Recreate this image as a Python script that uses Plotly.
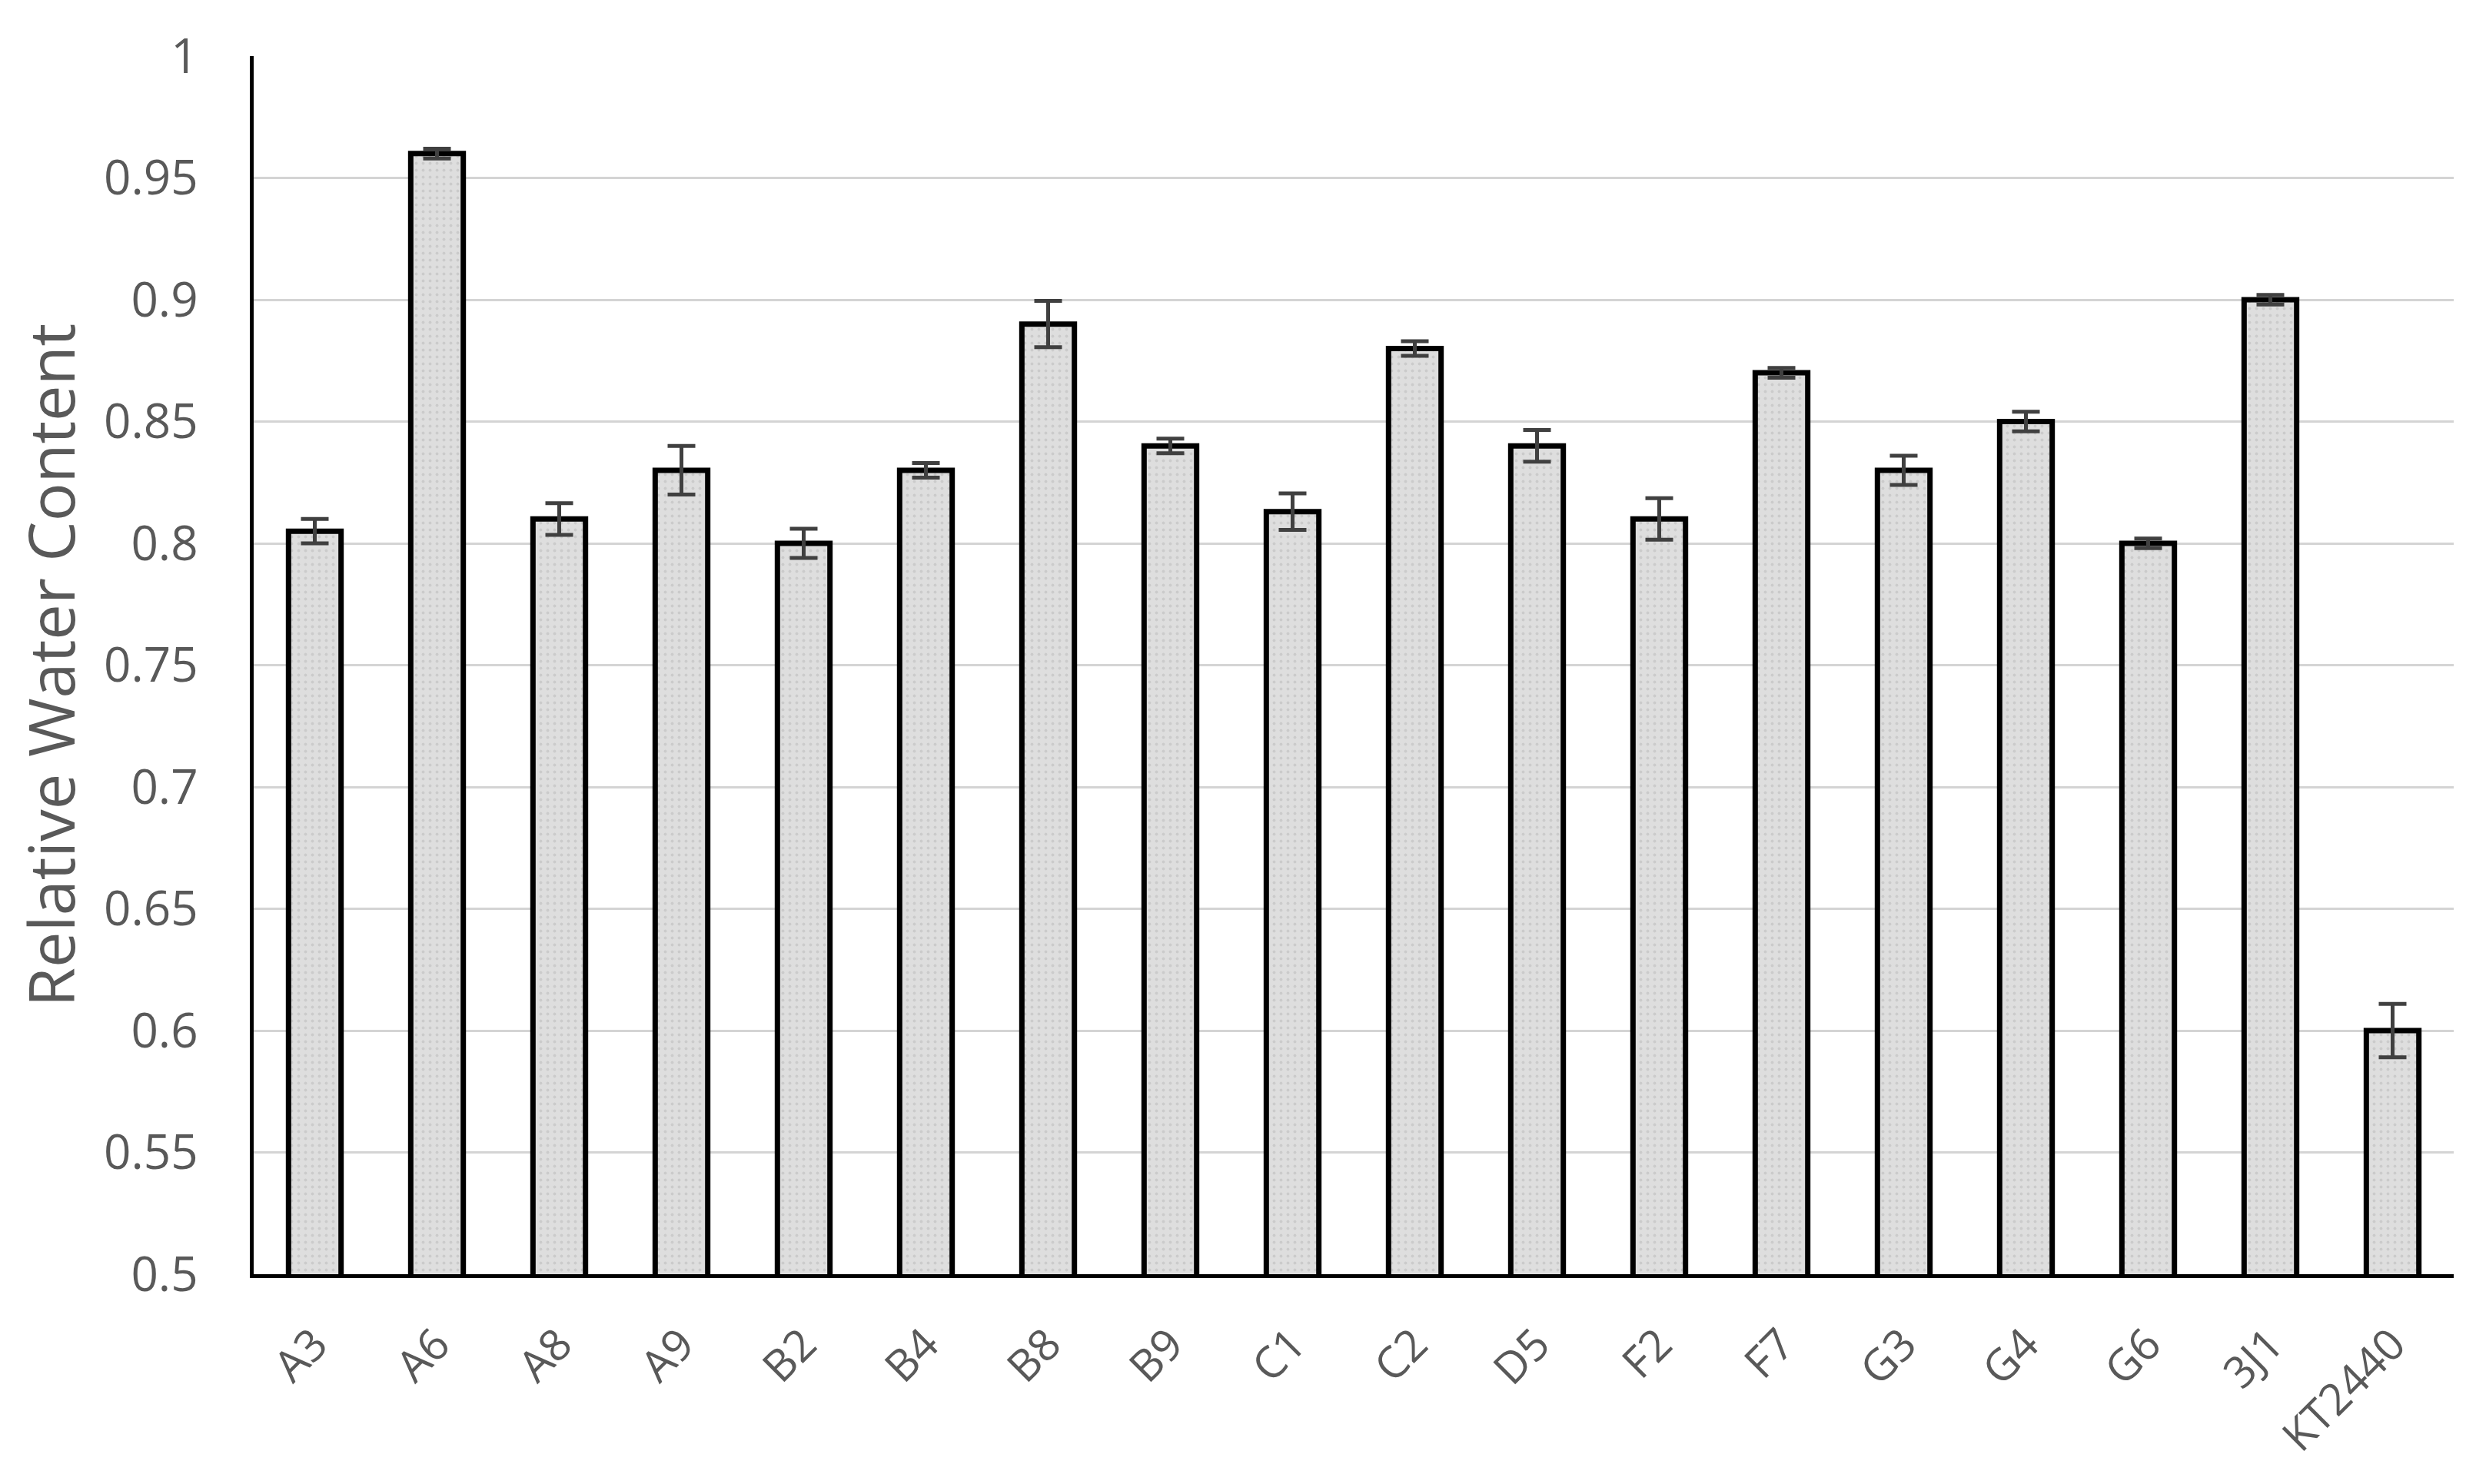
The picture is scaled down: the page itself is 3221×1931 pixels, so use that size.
import plotly.graph_objs as go

strains = ['A3', 'A6', 'A8', 'A9', 'B2', 'B4', 'B8', 'B9', 'C1', 'C2',
           'D5', 'F2', 'F7', 'G3', 'G4', 'G6', '3J1', 'KT2440']
rwc = [0.805, 0.960, 0.810, 0.830, 0.800, 0.830, 0.890, 0.840, 0.813, 0.880,
       0.840, 0.810, 0.870, 0.830, 0.850, 0.800, 0.900, 0.600]
rwc_err = [0.005, 0.002, 0.0065, 0.010, 0.006, 0.003, 0.0095, 0.003, 0.0075, 0.003,
           0.0065, 0.0085, 0.002, 0.006, 0.004, 0.002, 0.002, 0.011]
y_ticks = [0.5, 0.55, 0.6, 0.65, 0.7, 0.75, 0.8, 0.85, 0.9, 0.95, 1]
y_tick_text = ['0.5', '0.55', '0.6', '0.65', '0.7', '0.75', '0.8', '0.85', '0.9', '0.95', '1']

font_family = "Open Sans, Lato, sans-serif"

bars = go.Bar(
    x=strains,
    y=rwc,
    width=0.43,
    marker=dict(
        color='#dcdcdc',
        line=dict(color='black', width=7),
        pattern=dict(shape='.', fgcolor='#b8b8b8', bgcolor='#dedede',
                     size=9, solidity=0.15),
    ),
    error_y=dict(type='data', array=rwc_err, visible=True,
                 color='#404040', thickness=5, width=18),
)

# page body has an 8px margin, so the figure is a bit smaller than the window
layout = go.Layout(
    width=3205,
    height=1915,
    paper_bgcolor='white',
    plot_bgcolor='white',
    margin=dict(l=322, r=21, t=65, b=265),
    showlegend=False,
    font=dict(family=font_family, color='#595959', size=62),
    xaxis=dict(
        tickangle=-45,
        automargin=False,
        showline=True, linecolor='black', linewidth=5,
        showgrid=False, ticks='',
        ticklabelstandoff=30,
        tickfont=dict(size=57, color='#595959'),
    ),
    yaxis=dict(
        range=[0.5, 1.0],
        automargin=False,
        tickvals=y_ticks,
        ticktext=y_tick_text,
        showline=True, linecolor='black', linewidth=5,
        showgrid=True, gridcolor='#d4d4d4', gridwidth=3,
        zeroline=False, ticks='',
        ticklabelstandoff=55,
        tickfont=dict(size=62, color='#595959'),
        title=dict(text='Relative Water Content', standoff=30,
                   font=dict(size=83, color='#595959')),
    ),
)

fig = go.Figure(data=[bars], layout=layout)
fig.write_html("out.html")
